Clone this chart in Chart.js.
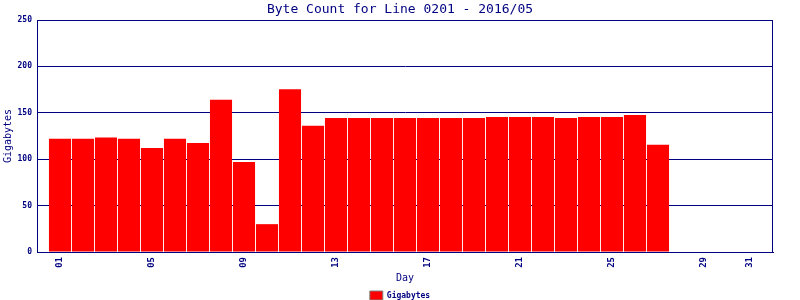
<!DOCTYPE html>
<html>
<head>
<meta charset="utf-8">
<script src="https://cdn.jsdelivr.net/npm/chart.js@4/dist/chart.umd.min.js"></script>
<style>
  html, body { margin: 0; padding: 0; background: #ffffff; }
  #wrap { width: 800px; height: 300px; }
</style>
</head>
<body>
<div id="wrap"><canvas id="c" width="800" height="300"></canvas></div>
<script>
// ---- data ----
const days = [1,2,3,4,5,6,7,8,9,10,11,12,13,14,15,16,17,18,19,20,21,22,23,24,25,26,27,28,29,30,31];
const gigabytes = [122,122,123.5,122,112,122,117.5,164,97,30,175.5,136,144.5,144.5,144.5,144.5,144.5,144.5,144.5,145.5,145.5,145.5,144.5,145.5,145.5,147.5,115.5,null,null,null,null];
const tickDays = [1,5,9,13,17,21,25,29,31];
const yTicks = [0,50,100,150,200,250];
const seriesName = 'Gigabytes';
const titleText = 'Byte Count for Line 0201 - 2016/05';

const NAVY = '#000080';
const MONO = "'DejaVu Sans Mono', 'Liberation Mono', monospace";

const borderPlugin = {
  id: 'plotBorder',
  afterInit(chart) {
    const lg = chart.legend;
    if (lg) {
      const orig = lg.fit.bind(lg);
      lg.fit = function () { orig(); this.height = 11; };
    }
  },
  afterDatasetsDraw(chart) {
    const a = chart.chartArea, ctx = chart.ctx;
    ctx.save();
    ctx.strokeStyle = NAVY;
    ctx.lineWidth = 1;
    ctx.strokeRect(Math.round(a.left) + 0.5, Math.round(a.top) + 0.5,
                   Math.round(a.right - a.left) - 1, Math.round(a.bottom - a.top));
    ctx.restore();
  }
};

new Chart(document.getElementById('c'), {
  type: 'bar',
  data: {
    datasets: [{
      label: seriesName,
      data: days.map((d, i) => ({ x: d, y: gigabytes[i] })),
      backgroundColor: '#ff0000',
      borderWidth: 0,
      barPercentage: 0.96,
      categoryPercentage: 1.0
    }]
  },
  options: {
    responsive: false,
    animation: false,
    devicePixelRatio: 1,
    layout: { padding: { left: 0, right: 0, top: 0, bottom: 0 } },
    plugins: {
      title: {
        display: true,
        text: titleText,
        color: NAVY,
        font: { family: MONO, size: 13, weight: 'normal' },
        padding: { top: 2, bottom: 2.4 }
      },
      legend: {
        display: true,
        position: 'bottom',
        labels: {
          color: NAVY,
          font: { family: MONO, size: 8, weight: 'bold' },
          boxWidth: 13,
          boxHeight: 9,
          padding: 2,
          generateLabels(chart) {
            const items = Chart.defaults.plugins.legend.labels.generateLabels(chart);
            items.forEach(it => { it.lineWidth = 1; it.strokeStyle = '#808080'; it.fillStyle = '#ff0000'; });
            return items;
          }
        }
      },
      tooltip: { enabled: false }
    },
    scales: {
      x: {
        type: 'linear',
        min: 0,
        max: 32,
        offset: false,
        grid: { display: false, drawTicks: false, offset: false },
        border: { display: true, color: NAVY, width: 1 },
        afterBuildTicks(scale) { scale.ticks = tickDays.map(v => ({ value: v })); },
        afterFit(scale) { scale.height = 37; },
        ticks: {
          autoSkip: false,
          minRotation: 90,
          maxRotation: 90,
          padding: 5,
          color: NAVY,
          font: { family: MONO, size: 9, weight: 'bold' },
          callback: v => String(v).padStart(2, '0')
        },
        title: {
          display: true,
          text: 'Day',
          color: NAVY,
          font: { family: MONO, size: 10 },
          padding: { top: 0, bottom: 5 }
        }
      },
      y: {
        min: 0,
        max: 250,
        afterBuildTicks(scale) { scale.ticks = yTicks.map(v => ({ value: v })); },
        afterFit(scale) { scale.width = 37; },
        grid: { color: NAVY, lineWidth: 1, drawTicks: false },
        border: { display: true, color: NAVY, width: 1 },
        ticks: {
          padding: 5,
          color: NAVY,
          font: { family: MONO, size: 8, weight: 'bold' }
        },
        title: {
          display: true,
          text: 'Gigabytes',
          color: NAVY,
          font: { family: MONO, size: 10 },
          padding: { top: 2, bottom: 0 }
        }
      },
      yRight: {
        type: 'linear',
        position: 'right',
        min: 0,
        max: 250,
        grid: { display: false, drawTicks: false },
        border: { display: false },
        ticks: { display: false },
        afterFit(scale) { scale.width = 27; }
      }
    }
  },
  plugins: [borderPlugin]
});
</script>
</body>
</html>
